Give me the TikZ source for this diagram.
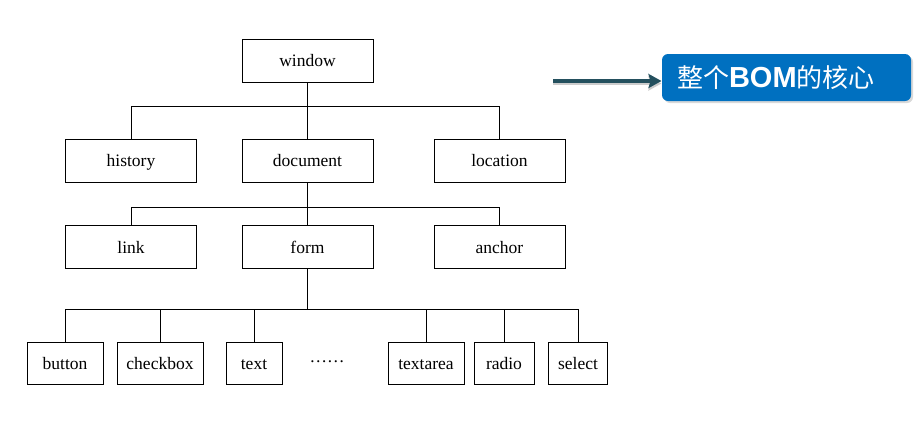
\documentclass[tikz,border=0pt]{standalone}
\usepackage{fontspec}
\setmainfont{Liberation Serif}
\setsansfont{Liberation Sans}
\newfontfamily\cjk{Noto Sans CJK SC}
\usepackage{tikz}
\usetikzlibrary{arrows.meta}
\usetikzlibrary{shadows}
\definecolor{bomblue}{HTML}{0070C0}
\definecolor{arrowteal}{HTML}{24505E}

\begin{document}
\begin{tikzpicture}[x=1pt,y=-1pt,every node/.style={draw, line width=1pt, inner sep=0pt, font=\fontsize{17.5}{20}\selectfont},
	obj/.style={minimum width=131pt, minimum height=43pt, text height=13pt, text depth=1pt},
	leaf/.style={minimum height=42pt, text height=13pt, text depth=1pt},
	fork/.style={line width=1pt},
	core/.style={fill=bomblue, draw=none, rounded corners=6pt, text=white, minimum height=47pt, text width=219pt, inner xsep=15pt, align=left, font=\fontsize{26}{28}\selectfont, drop shadow={opacity=0.3, shadow xshift=2pt, shadow yshift=-2pt}},
	pointer/.style={draw=arrowteal, line width=3.5pt, -{Stealth[length=13pt, width=14pt, inset=2pt]}}]
	
	\useasboundingbox (0,0) rectangle (922,421);
	
	% top levels
	\node[obj] (window) at (307.5,60.5) {window};
	\node[obj] (history) at (131,160.5) {history};
	\node[obj] (document) at (307.5,160.5) {document};
	\node[obj] (location) at (499.5,160.5) {location};
	\node[obj] (link) at (131,247) {link};
	\node[obj] (form) at (307.5,247) {form};
	\node[obj] (anchor) at (499.5,247) {anchor};
	
	% form elements
	\node[leaf, minimum width=76pt] (button) at (65,363) {button};
	\node[leaf, minimum width=86pt] (checkbox) at (160,363) {checkbox};
	\node[leaf, minimum width=56pt] (text) at (254,363) {text};
	\node[draw=none, anchor=base] (more) at (327,362) {……};
	\node[leaf, minimum width=76pt] (textarea) at (426,363) {textarea};
	\node[leaf, minimum width=60pt] (radio) at (504,363) {radio};
	\node[leaf, minimum width=59pt] (select) at (578,363) {select};
	
	\draw[fork] (window.south) -- (document.north);
	\draw[fork] (window.south) -- ++(0,24) -| (history.north);
	\draw[fork] (window.south) -- ++(0,24) -| (location.north);
	
	\draw[fork] (document.south) -- (form.north);
	\draw[fork] (document.south) -- ++(0,25) -| (link.north);
	\draw[fork] (document.south) -- ++(0,25) -| (anchor.north);
	
	\foreach \leafname in {button, checkbox, text, textarea, radio, select}
		\draw[fork] (form.south) -- ++(0,40) -| (\leafname.north);
	
	% callout
	\node[core] (bom) at (786.5,77.5) {{\cjk 整个}{\sffamily\bfseries\fontsize{29}{30}\selectfont BOM}{\cjk 的核心}};
	\coordinate (tail) at (553,81);
	\draw[pointer, preaction={draw=black!20, line width=3pt, transform canvas={yshift=-2.5pt}}] (tail) -- (tail -| bom.west);
	\end{tikzpicture}
\end{document}
